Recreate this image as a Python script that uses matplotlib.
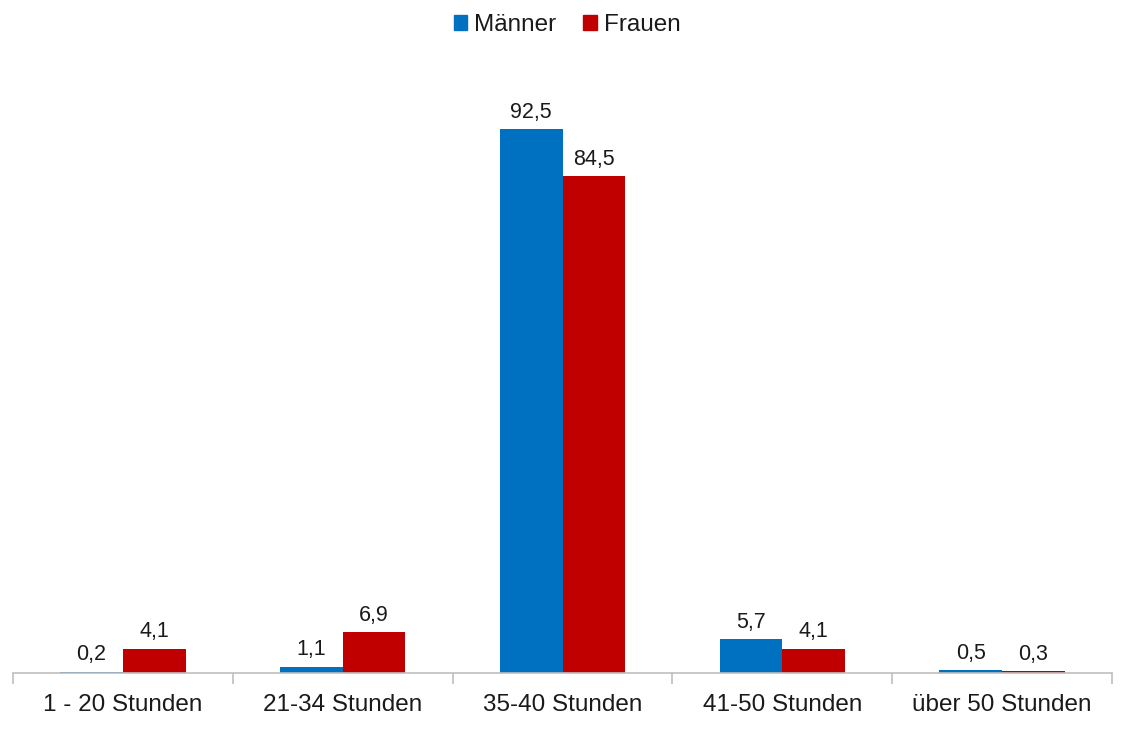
import matplotlib
matplotlib.use("Agg")
import matplotlib.pyplot as plt
import numpy as np
from matplotlib.patches import Patch

categories = ["1 - 20 Stunden", "21-34 Stunden", "35-40 Stunden", "41-50 Stunden", "über 50 Stunden"]
maenner = [0.2, 1.1, 92.5, 5.7, 0.5]
frauen = [4.1, 6.9, 84.5, 4.1, 0.3]
series_names = ["Männer", "Frauen"]

plt.rcParams['font.family'] = ['Liberation Sans', 'DejaVu Sans']
blue = "#0070C0"
red = "#C00000"

fig = plt.figure(figsize=(11.21, 7.29), dpi=100)
ax = fig.add_axes([13/1121, 56/729, (1112-13)/1121, (673-85)/729])

x = np.arange(len(categories))
w = 0.285
ax.bar(x - w/2, maenner, w, color=blue)
ax.bar(x + w/2, frauen, w, color=red)

def fmt(v):
    return f"{v:.1f}".replace(".", ",")

for xi, v in zip(x, maenner):
    ax.text(xi - w/2, v + 1.1, fmt(v), ha="center", va="bottom", fontsize=15.5, color="#1a1a1a")
for xi, v in zip(x, frauen):
    ax.text(xi + w/2, v + 1.1, fmt(v), ha="center", va="bottom", fontsize=15.5, color="#1a1a1a")

ax.set_xlim(-0.5, len(categories) - 0.5)
ax.set_ylim(0, 100)
ax.set_yticks([])
for s in ["top", "right", "left"]:
    ax.spines[s].set_visible(False)
ax.spines["bottom"].set_color("#BFBFBF")
ax.spines["bottom"].set_linewidth(1.2)

ax.set_xticks(x)
ax.set_xticklabels(categories, fontsize=17.5, color="#1a1a1a")
ax.tick_params(axis="x", length=0, pad=15)
ax.set_xticks(np.arange(-0.5, len(categories)), minor=True)
ax.tick_params(axis="x", which="minor", length=8, color="#BFBFBF", width=1.2)

handles = [Patch(color=blue), Patch(color=red)]
fig.legend(handles, series_names, loc="center", bbox_to_anchor=(0.506, 0.966), ncol=2,
           frameon=False, fontsize=17.5, handlelength=0.55, handleheight=0.55,
           handletextpad=0.3, columnspacing=1.1, labelcolor="#1a1a1a")

fig.savefig("out.png", dpi=100)
